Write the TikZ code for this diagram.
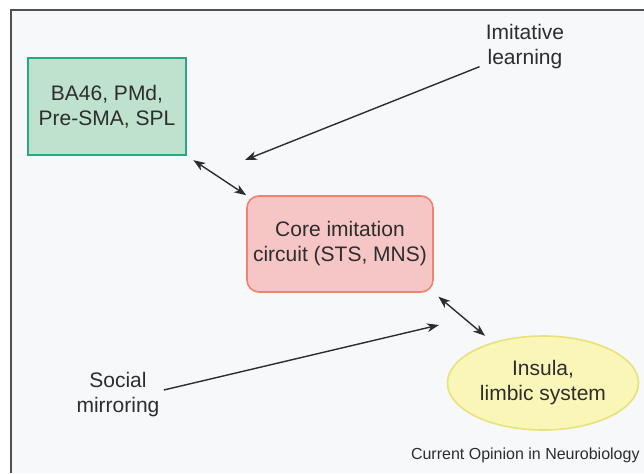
\documentclass[tikz,border=0pt]{standalone}
\usepackage{fontspec}
\setmainfont{Liberation Sans}
\usepackage{xcolor}
\usepackage{tikz}
\definecolor{panelgray}{RGB}{247, 248, 250}
\definecolor{framegray}{RGB}{80, 80, 80}
\definecolor{inkgray}{RGB}{45, 45, 45}
\definecolor{areagreen}{RGB}{190, 226, 206}
\definecolor{areaedge}{RGB}{40, 168, 128}
\definecolor{corered}{RGB}{246, 197, 197}
\definecolor{coreedge}{RGB}{240, 130, 110}
\definecolor{limbyellow}{RGB}{249, 246, 184}
\definecolor{limbedge}{RGB}{232, 226, 122}
\usetikzlibrary{shapes.geometric, arrows.meta, positioning, calc}

\begin{document}
\begin{tikzpicture}[
        x=0.5pt, y=-0.5pt,
        font=\fontsize{10.5}{12.5}\selectfont,
        text=inkgray,
        area/.style={rectangle, draw=areaedge, fill=areagreen, line width=0.7pt, minimum width=79pt, minimum height=48.5pt, align=center, inner sep=0pt},
        core/.style={rectangle, draw=coreedge, fill=corered, line width=0.8pt, rounded corners=6pt, minimum width=93pt, minimum height=48pt, align=center, inner sep=0pt},
        limb/.style={ellipse, draw=limbedge, fill=limbyellow, line width=0.8pt, minimum width=95.5pt, minimum height=47pt, align=center, inner sep=0pt},
        cue/.style={align=center, inner sep=1pt},
        link/.style={draw=inkgray, line width=0.7pt, -{Stealth[length=6pt, width=4.4pt, inset=1.8pt]}},
        twoway/.style={link, {Stealth[length=6pt, width=4.4pt, inset=1.8pt]}-{Stealth[length=6pt, width=4.4pt, inset=1.8pt]}}
    ]
        \useasboundingbox (0,0) rectangle (644,473);
        \fill[panelgray] (11,10) rectangle (644,473);
        \draw[framegray, line width=0.6pt] (11,473) |- (644,10);

        \node[area] (frontal) at (107,106.5) {BA46, PMd,\\Pre-SMA, SPL};
        \node[core] (core) at (340,244) {Core imitation\\circuit (STS, MNS)};
        \node[limb] (limbic) at (543,383) {Insula,\\limbic system};

        \node[cue] (imit) at (525,47) {Imitative\\learning};
        \node[cue] (social) at (118,395) {Social\\mirroring};
        \node[anchor=east, inner sep=0pt, font=\fontsize{8}{9.6}\selectfont] (credit) at (640,455) {Current Opinion in Neurobiology};

        \coordinate (imitend) at (245,160);
        \coordinate (socialend) at (439,325);

        \draw[link] ($(imit.south west)+(-4,-5)$) -- (imitend);
        \draw[link] ($(social.east)+(2,-5)$) -- (socialend);
        \draw[twoway, shorten <=4pt] (frontal.south east) -- (core.north west);
        \draw[twoway, shorten <=3pt, shorten >=5pt] (core.south east) -- (limbic.141);
    \end{tikzpicture}
\end{document}
